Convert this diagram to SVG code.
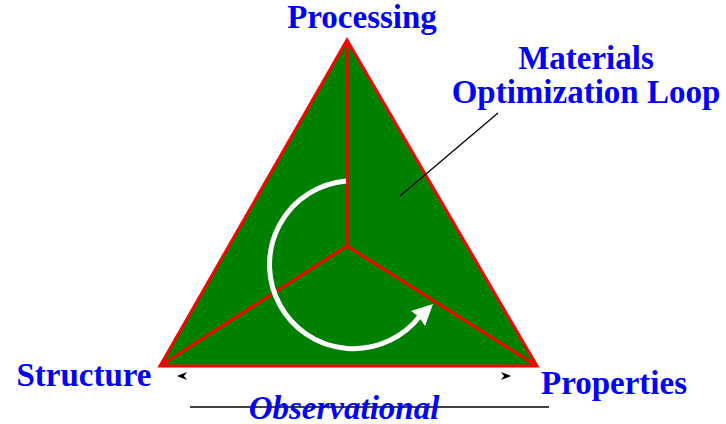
<svg xmlns="http://www.w3.org/2000/svg" width="726" height="424" viewBox="0 0 726 424">
<style>
.lbl{font-family:"Liberation Serif","Times New Roman",serif;font-weight:bold;font-size:33px;fill:#0000ff}
.red{stroke:#ff0000;stroke-width:3;fill:none}
</style>
<rect width="726" height="424" fill="#ffffff"/>
<g id="triangle">
<polygon points="347,40 160,366 537,366" fill="#008000" stroke="#ff0000" stroke-width="3" stroke-linejoin="miter"/>
<line class="red" x1="347" y1="246" x2="347" y2="40"/>
<line class="red" x1="347" y1="246" x2="160" y2="366"/>
<line class="red" x1="347" y1="246" x2="537" y2="366"/>
</g>
<g id="loop">
<path d="M 346 181 A 84 84 0 1 0 420 316" fill="none" stroke="#ffffff" stroke-width="5"/>
<polygon points="433,304 425,326 419,317 411,311" fill="#ffffff"/>
</g>
<g id="connectors">
<line x1="400" y1="196" x2="498" y2="113" stroke="#000000" stroke-width="1.3"/>
<line x1="190" y1="407" x2="549" y2="407" stroke="#000000" stroke-width="1.3"/>
<polygon points="177,376 187,372 184,376 187,380" fill="#000000"/>
<polygon points="511,376 501,372 504,376 501,380" fill="#000000"/>
</g>
<g id="processing"><text class="lbl" x="362" y="28" text-anchor="middle">Processing</text></g>
<g id="structure"><text class="lbl" x="84" y="386" text-anchor="middle">Structure</text></g>
<g id="properties"><text class="lbl" x="614" y="394" text-anchor="middle">Properties</text></g>
<g id="loop-label">
<text class="lbl" x="586" y="69" text-anchor="middle">Materials</text>
<text class="lbl" x="586" y="103" text-anchor="middle">Optimization Loop</text>
</g>
<g id="observational"><text class="lbl" x="344" y="419" text-anchor="middle" font-style="italic">Observational</text></g>
</svg>
